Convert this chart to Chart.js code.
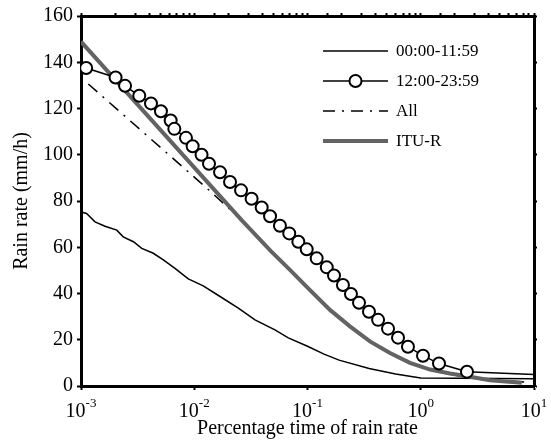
<!DOCTYPE html>
<html>
<head>
<meta charset="utf-8">
<title>Rain rate vs percentage time</title>
<script src="https://cdn.jsdelivr.net/npm/chart.js@4.4.1/dist/chart.umd.min.js"></script>
<style>
    html, body { margin: 0; padding: 0; background: #fff; }
    #wrap { width: 551px; height: 441px; }
</style>
</head>
<body>
<div id="wrap"><canvas id="rainChart" width="551" height="441"></canvas></div>
<script>
// Series data (percentage of time vs rain rate in mm/h)
const seriesNames = ['00:00-11:59', '12:00-23:59', 'All', 'ITU-R'];

const morningX = [0.001, 0.00112, 0.00133, 0.00163, 0.00207, 0.00236, 0.0029, 0.00344, 0.00435, 0.00533,
    0.00676, 0.00886, 0.012, 0.0169, 0.0245, 0.0344, 0.0516, 0.0677, 0.1, 0.14, 0.19, 0.35, 0.6, 1.0, 10];
const morningY = [75.3, 74.6, 71.0, 69.1, 67.4, 64.5, 62.4, 59.5, 57.4, 54.5,
    50.9, 46.3, 43.3, 38.7, 33.7, 28.6, 24.3, 20.8, 17.2, 13.8, 11.2, 7.6, 5.2, 3.5, 3.1];

const eveningX = [0.00111, 0.00202, 0.00245, 0.00327, 0.00415, 0.00508, 0.00619, 0.00667, 0.00845, 0.00968,
    0.0116, 0.0135, 0.0169, 0.0207, 0.0259, 0.0321, 0.0394, 0.0467, 0.0571, 0.069,
    0.083, 0.0984, 0.1205, 0.148, 0.1714, 0.2056, 0.242, 0.285, 0.349, 0.42,
    0.514, 0.63, 0.771, 1.047, 1.449, 2.56, 10];
const eveningY = [137.5, 133.4, 129.8, 125.5, 122.2, 118.8, 114.8, 111.2, 107.3, 103.7,
    100.0, 96.1, 92.4, 88.2, 84.6, 81.0, 77.2, 73.4, 69.3, 66.0,
    62.4, 59.1, 55.2, 51.3, 47.8, 43.7, 39.8, 36.0, 32.1, 28.6,
    24.8, 20.9, 17.0, 13.1, 9.7, 6.2, 5.0];

const allX = [0.00116, 0.0133, 0.03, 0.0475, 0.07, 0.1, 0.158, 0.237, 0.356, 0.535, 0.803, 1.208, 1.81, 2.72, 4.08, 9.0];
const allY = [130.6, 85.0, 69.0, 58.0, 49.8, 42.8, 32.6, 25.5, 19.0, 14.0, 9.8, 6.9, 5.0, 3.6, 2.6, 1.6];

const ituX = [0.001, 0.0262, 0.0475, 0.07, 0.1, 0.158, 0.237, 0.356, 0.535, 0.803, 1.208, 1.81, 2.72, 4.08, 7.8];
const ituY = [148.9, 71.7, 58.3, 50.2, 42.5, 32.9, 25.8, 19.3, 14.3, 10.0, 7.1, 5.4, 4.0, 2.5, 1.4];

const xTickPowers = [-3, -2, -1, 0, 1];
const yMin = 0, yMax = 160, yStep = 20;

const toPoints = (xs, ys) => xs.map((x, i) => ({ x: x, y: ys[i] }));

const FONT = '"Liberation Serif", "Times New Roman", serif';
const GRAY = '#636363';
const isPow10 = v => Math.abs(Math.log10(v) - Math.round(Math.log10(v))) < 1e-9;

// Draws 10 with a raised exponent under each decade
const powerLabels = {
    id: 'powerLabels',
    afterDraw(chart) {
        const { ctx, scales: { x } } = chart;
        ctx.save();
        ctx.fillStyle = '#000';
        ctx.textBaseline = 'alphabetic';
        xTickPowers.forEach(p => {
            const px = x.getPixelForValue(Math.pow(10, p));
            const exp = String(p);
            ctx.font = '20px ' + FONT;
            const wb = ctx.measureText('10').width;
            ctx.font = '13px ' + FONT;
            const we = ctx.measureText(exp).width;
            const left = px - (wb + we) / 2;
            ctx.font = '20px ' + FONT;
            ctx.fillText('10', left, x.top + 31);
            ctx.font = '13px ' + FONT;
            ctx.fillText(exp, left + wb, x.top + 21);
        });
        ctx.restore();
    }
};

// Legend drawn inside the plot, upper right
const insideLegend = {
    id: 'insideLegend',
    afterDraw(chart) {
        const { ctx, chartArea } = chart;
        const x0 = chartArea.left + 242, x1 = chartArea.left + 307;
        ctx.save();
        chart.data.datasets.forEach((ds, i) => {
            const y = chartArea.top + 35 + i * 30;
            ctx.strokeStyle = ds.borderColor;
            ctx.lineWidth = ds.borderWidth;
            ctx.setLineDash(ds.borderDash || []);
            ctx.beginPath();
            ctx.moveTo(x0, y);
            ctx.lineTo(x1, y);
            ctx.stroke();
            ctx.setLineDash([]);
            if (ds.legendMarker) {
                ctx.beginPath();
                ctx.arc((x0 + x1) / 2, y, 6, 0, Math.PI * 2);
                ctx.fillStyle = '#fff';
                ctx.fill();
                ctx.lineWidth = 2;
                ctx.strokeStyle = '#000';
                ctx.stroke();
            }
            ctx.fillStyle = '#000';
            ctx.font = '17px ' + FONT;
            ctx.textBaseline = 'middle';
            ctx.fillText(ds.label, x1 + 8, y + 1);
        });
        ctx.restore();
    }
};

const ctx = document.getElementById('rainChart').getContext('2d');
const rainChart = new Chart(ctx, {
    type: 'line',
    data: {
        datasets: [{
            label: seriesNames[0],
            data: toPoints(morningX, morningY),
            borderColor: '#000',
            borderWidth: 1.5,
            pointRadius: 0,
            order: 2
        }, {
            label: seriesNames[1],
            data: toPoints(eveningX, eveningY),
            borderColor: '#000',
            borderWidth: 1.5,
            pointRadius: c => (c.dataIndex === eveningX.length - 1 ? 0 : 6),
            pointBorderWidth: 2,
            pointBorderColor: '#000',
            pointBackgroundColor: '#fff',
            legendMarker: true,
            order: 0
        }, {
            label: seriesNames[2],
            data: toPoints(allX, allY),
            borderColor: '#000',
            borderWidth: 1.5,
            borderDash: [12, 7, 2, 7],
            pointRadius: 0,
            order: 3
        }, {
            label: seriesNames[3],
            data: toPoints(ituX, ituY),
            borderColor: GRAY,
            borderWidth: 4,
            pointRadius: 0,
            order: 1
        }]
    },
    options: {
        responsive: false,
        animation: false,
        devicePixelRatio: 1,
        tension: 0,
        layout: { padding: 0 },
        plugins: {
            legend: { display: false },
            tooltip: { enabled: false }
        },
        scales: {
            x: {
                type: 'logarithmic',
                position: 'bottom',
                min: 0.001,
                max: 10,
                afterBuildTicks: s => { s.ticks = s.ticks.filter(t => isPow10(t.value)); },
                afterFit: s => { s.height = 55; },
                border: { color: '#000', width: 3 },
                grid: { drawOnChartArea: false, tickLength: 4, tickWidth: 2, tickColor: '#000' },
                ticks: { display: false },
                title: {
                    display: true,
                    text: 'Percentage time of rain rate',
                    color: '#000',
                    font: { family: FONT, size: 20 },
                    padding: { top: 0, bottom: 0 }
                }
            },
            x2: {
                type: 'logarithmic',
                position: 'top',
                min: 0.001,
                max: 10,
                afterFit: s => { s.height = 15; },
                border: { color: '#000', width: 3 },
                grid: { drawOnChartArea: false, tickLength: 3, tickWidth: 2, tickColor: '#000' },
                ticks: { display: false }
            },
            y: {
                min: yMin,
                max: yMax,
                afterFit: s => { s.width = 81; },
                border: { color: '#000', width: 3 },
                grid: { drawOnChartArea: false, tickLength: 4, tickWidth: 2, tickColor: '#000' },
                ticks: {
                    stepSize: yStep,
                    color: '#000',
                    padding: 4,
                    font: { family: FONT, size: 20 }
                },
                title: {
                    display: true,
                    text: 'Rain rate (mm/h)',
                    color: '#000',
                    font: { family: FONT, size: 20 },
                    padding: { top: 10, bottom: 0 }
                }
            },
            y2: {
                position: 'right',
                min: yMin,
                max: yMax,
                afterFit: s => { s.width = 17; },
                border: { color: '#000', width: 3 },
                grid: { drawOnChartArea: false, tickLength: 3, tickWidth: 2, tickColor: '#000' },
                ticks: { display: false, stepSize: yStep }
            }
        }
    },
    plugins: [powerLabels, insideLegend]
});
</script>
</body>
</html>
